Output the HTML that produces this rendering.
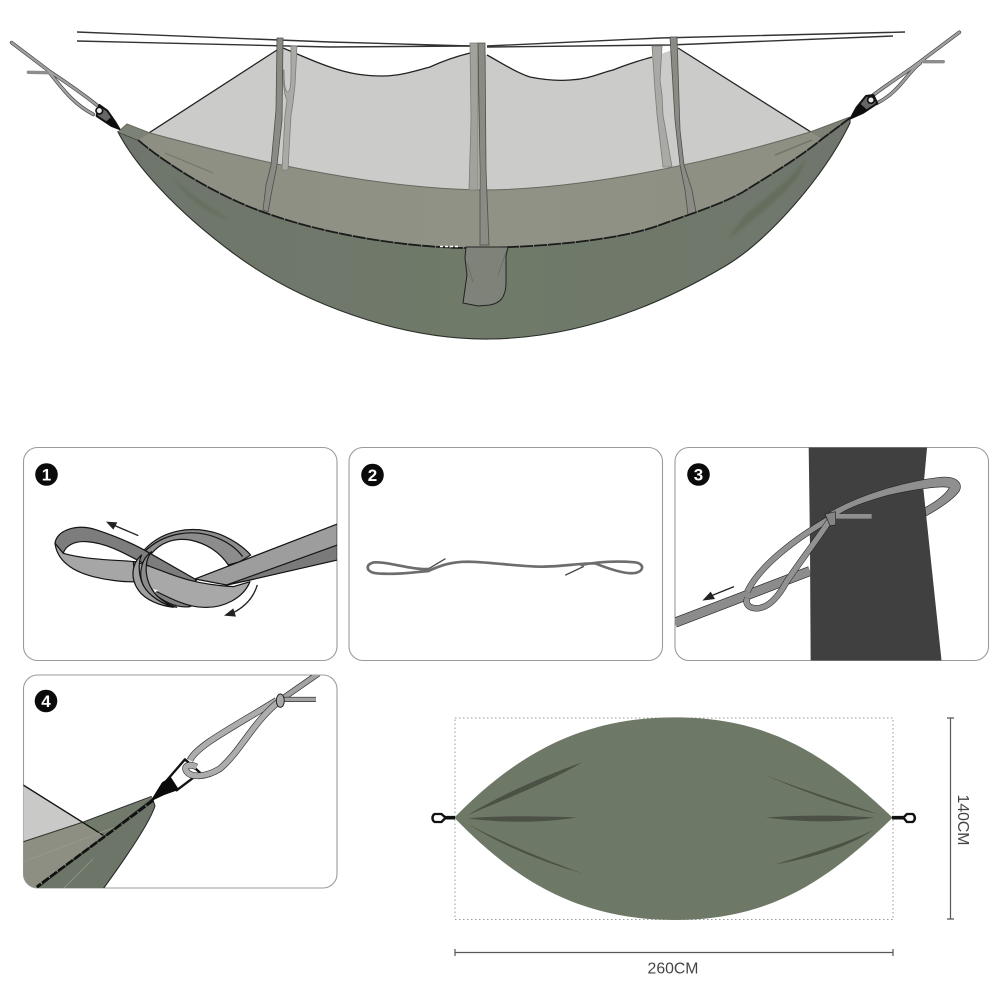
<!DOCTYPE html>
<html><head><meta charset="utf-8"><style>
html,body{margin:0;padding:0;background:#fff;width:1000px;height:1000px;overflow:hidden}
svg{display:block}
text{font-family:"Liberation Sans",sans-serif}
</style></head><body>
<svg width="1000" height="1000" viewBox="0 0 1000 1000" xmlns="http://www.w3.org/2000/svg">
<defs>
<linearGradient id="b" x1="0" y1="0" x2="1" y2="0"><stop offset="0" stop-color="#6f756c"/><stop offset=".5" stop-color="#6f7a68"/><stop offset="1" stop-color="#70766d"/></linearGradient>
<linearGradient id="u" x1="0" y1="0" x2="1" y2="0"><stop offset="0" stop-color="#8d8f82"/><stop offset=".5" stop-color="#8f9285"/><stop offset="1" stop-color="#8d8f82"/></linearGradient>
<filter id="s" x="-20%" y="-20%" width="140%" height="140%"><feGaussianBlur stdDeviation="1.2"/></filter>
<clipPath id="c1"><rect x="23.5" y="447.5" width="313.5" height="213" rx="14"/></clipPath>
<clipPath id="c3"><rect x="675" y="447.5" width="313.5" height="213" rx="14"/></clipPath>
<clipPath id="c4"><rect x="23.5" y="675" width="313.5" height="213" rx="14"/></clipPath>
</defs>

<!-- ridge lines -->
<g fill="none" stroke="#333" stroke-width="1.4">
<path d="M77,32 L330,42 L470,46"/><path d="M77,41 L330,47 L470,46"/>
<path d="M487,46 L660,38 L905,32"/><path d="M487,47 L670,45 L893,36"/>
</g>
<!-- mesh -->
<path d="M138,140 L277,50 L283,48 C300,55 315,62 330,67 C350,74 365,76 383,76 C400,76 415,71 430,67 C445,60 458,56 470,53 L487,55 C500,62 515,72 530,77 C545,80 558,81 570,80 C590,79 600,73 613,70 C630,63 642,60 652,57 L678,48 L822,139 L700,200 L300,200 Z" fill="#cbcccA"/>
<path d="M138,140 L277,50 M283,48 C300,55 315,62 330,67 C350,74 365,76 383,76 C400,76 415,71 430,67 C445,60 458,56 470,53 M487,55 C500,62 515,72 530,77 C545,80 558,81 570,80 C590,79 600,73 613,70 C630,63 642,60 652,57 M678,48 L822,139" fill="none" stroke="#222" stroke-width="1.3"/>
<!-- body -->
<path d="M118,132 C135,165 175,210 233,253 C300,303 400,340 490,339 C580,338 660,305 727,265 C770,239 825,175 850,123 L850,118 L822,139 L500,245 L138,140 Z" fill="url(#b)" stroke="#2a2e28" stroke-width="1.1"/>
<!-- upper fabric -->
<path d="M127,124 L150,133 C250,160 370,188 480,190 C560,190 680,172 810,132 L850,117 L822,139 C800,157 775,172 743,192 C720,205 690,214 660,225 C620,240 540,248 465,248 C400,247 320,233 263,212 C215,195 165,163 138,140 Z" fill="url(#u)"/>
<path d="M118,132 L127,124 L150,133 L138,140 Z" fill="#7d8277"/>
<path d="M810,132 L850,117 L822,139 Z" fill="#7d8277"/>
<path d="M118,132 L127,124 L150,133 M150,133 C250,160 370,188 480,190 C560,190 680,172 810,132 L850,117" fill="none" stroke="#66685f" stroke-width="1"/>
<!-- back straps -->
<g stroke="#7c7d76" stroke-width=".8">
<path d="M291,46 L297,46 L295,85 C294,95 293,105 291,115 L288,170 L282,170 L285,115 L287,100 C285,97 284,90 283,80 L283,70 L284,70 C284,85 285,92 288,92 C291,90 291,80 291,70 Z" fill="#a9aaa5"/>
<path d="M652,46 L662,46 L660,80 L662,95 L663,115 L672,167 L663,167 L657,115 L655,90 Z" fill="#a9aaa5"/>
<path d="M470,43 L478,43 L478,190 L469,190 L471,120 Z" fill="#a1a29c"/>
</g>
<!-- front straps -->
<g stroke="#4e4f49" stroke-width=".8" fill="#8a8b85">
<path d="M277,38 L283,38 L282,120 L277,165 L272,190 L268,212 L263,210 L266,185 L271,165 L276,110 Z"/>
<path d="M478,43 L485,43 L486,170 L489,245 L480,245 L480,170 Z"/>
<path d="M670,37 L677,37 L680,130 L684,165 L692,190 L696,212 L688,215 L685,190 L680,165 L675,120 Z"/>
</g>
<!-- seam -->
<path d="M138,140 C165,163 215,195 263,212 C320,233 400,247 465,248 C540,248 620,240 660,225 C690,214 720,205 743,192 C775,172 800,157 822,139 L850,118" fill="none" stroke="#1a1a1a" stroke-width="1.8" stroke-dasharray="13 1"/>
<path d="M440,246.5 L459,246.5" stroke="#fff" stroke-width="1.5" stroke-dasharray="3 2"/>
<!-- pocket -->
<path d="M466,247 L508,247 L506,256 L506,285 C505,298 500,303 490,305 L478,306 L463,303 L467,275 L465,258 Z" fill="#7e8279" stroke="#222" stroke-width="1"/>
<path d="M467,263 L473,282 M506,252 L498,275" stroke="#666a60" stroke-width=".8" fill="none"/>
<!-- body folds -->
<path d="M170,175 C190,195 205,205 230,220 C205,212 185,195 170,175" fill="#5f6a54" opacity=".7" filter="url(#s)"/>
<path d="M165,153 L213,173" stroke="#74766b" stroke-width="1"/>
<path d="M745,215 C770,195 795,175 806,158 C800,185 770,205 728,240 C735,228 740,222 745,215 Z" fill="#5f6a54" opacity=".65" filter="url(#s)"/>
<path d="M775,155 L812,140" stroke="#74766b" stroke-width="1.5"/>

<!-- left rope/carabiner -->
<g transform="translate(0,20) scale(.3333)" fill="none" stroke-linecap="round" stroke-linejoin="round">
<path d="M35,68 L150,155 C180,175 240,215 290,255" stroke="#444" stroke-width="11"/>
<path d="M150,160 C180,195 215,250 280,283" stroke="#444" stroke-width="11"/>
<path d="M85,157 L145,158" stroke="#8d8d8d" stroke-width="10"/>
<path d="M35,68 L150,155 C180,175 240,215 290,255" stroke="#a0a0a0" stroke-width="7"/>
<path d="M150,160 C180,195 215,250 280,283" stroke="#a0a0a0" stroke-width="7"/>
<path d="M298,255 L322,272 L345,305 L358,327 L335,318 L290,288 Z" fill="#666" stroke="#111" stroke-width="6"/>
<path d="M332,292 L362,330 L344,322 L318,305 Z" fill="#0d0d0d"/>
<circle cx="298" cy="272" r="10" fill="#e8e8e8" stroke="#111" stroke-width="5"/>
</g>
<!-- right rope/carabiner -->
<g transform="translate(660,20) scale(.3333)" fill="none" stroke-linecap="round" stroke-linejoin="round">
<path d="M898,37 L790,118 C750,150 700,180 640,225" stroke="#444" stroke-width="11"/>
<path d="M780,130 C740,160 720,215 650,250" stroke="#444" stroke-width="11"/>
<path d="M790,125 L850,125" stroke="#8d8d8d" stroke-width="10"/>
<path d="M898,37 L790,118 C750,150 700,180 640,225" stroke="#a0a0a0" stroke-width="7"/>
<path d="M780,130 C740,160 720,215 650,250" stroke="#a0a0a0" stroke-width="7"/>
<path d="M618,228 L640,225 L652,250 L610,278 L572,295 L590,262 Z" fill="#666" stroke="#111" stroke-width="6"/>
<path d="M600,250 L622,270 L570,298 Z" fill="#0d0d0d"/>
<circle cx="633" cy="240" r="10" fill="#e8e8e8" stroke="#111" stroke-width="5"/>
</g>

<!-- panels -->
<g fill="#fff" stroke="#9b9b9b" stroke-width="1.1">
<rect x="23.5" y="447.5" width="313.5" height="213" rx="14"/>
<rect x="349" y="447.5" width="313.5" height="213" rx="14"/>
<rect x="675" y="447.5" width="313.5" height="213" rx="14"/>
<rect x="23.5" y="675" width="313.5" height="213" rx="14"/>
</g>

<!-- panel 1 -->
<g clip-path="url(#c1)"><g transform="translate(20,445) scale(.3333)" stroke="#141414" stroke-width="3.6" stroke-linejoin="round">
<path d="M360,330 C420,250 520,240 600,268 C640,285 670,305 692,330 L660,350 L625,360 C600,322 560,295 510,285 C460,277 420,295 395,325 Z" fill="#8c8c8c"/>
<path d="M372,322 C430,262 520,250 590,278 C625,292 650,310 668,335" fill="none"/>
<path d="M105,295 C110,255 170,235 230,255 C290,275 340,295 390,325 L530,405 L500,425 L390,365 C330,335 270,295 200,290 C160,287 135,305 130,325 Z" fill="#7d7d7d"/>
<path d="M525,402 L952,237 L952,345 L690,405 L620,420 Z" fill="#9d9d9d"/>
<path d="M620,420 L952,300 L952,345 L690,405 Z" fill="#7a7a7a"/>
<path d="M105,295 C110,335 140,375 220,395 C260,405 310,412 345,410 L345,350 C290,345 200,345 130,325 Z" fill="#a6a6a6"/>
<path d="M395,440 C430,470 470,490 510,485 L540,470 L430,430 Z" fill="#828282"/>
<path d="M340,350 C420,365 470,415 640,425 L690,410 C670,460 610,490 550,487 C480,485 420,440 345,410 Z" fill="#a8a8a8"/>
<path d="M395,320 C365,340 350,390 375,430 C390,455 430,480 470,487 C420,470 395,440 385,410 C375,380 375,345 395,320 Z" fill="#8c8c8c"/>
<path d="M365,330 C335,355 330,400 355,435 C375,465 420,482 460,487 C410,470 375,440 365,410 C355,380 355,350 365,330 Z" fill="#a0a0a0"/>
<path d="M398,432 L415,436 L405,442 Z" fill="#fff" stroke="none"/>
</g>
<g transform="translate(20,445) scale(.3333)" fill="none" stroke="#222" stroke-width="4">
<path d="M355,272 L280,240"/><path d="M712,420 C700,460 670,490 630,508"/>
<path d="M258,230 L292,232 L280,254 Z" fill="#222" stroke="none"/>
<path d="M612,512 L640,490 L648,515 Z" fill="#222" stroke="none"/>
</g></g>

<!-- panel 2 -->
<g transform="translate(345,445) scale(.3333)" fill="none" stroke-linejoin="round" stroke-linecap="round">
<path d="M250,372 L300,342 M715,365 L662,390" stroke="#4a4a4a" stroke-width="4"/>
<path d="M250,372 C200,375 130,350 90,352 C60,355 60,382 95,385 C150,390 210,382 250,378 C290,360 320,350 370,350 C450,352 520,365 590,365 C650,365 700,355 750,355 C800,375 850,390 875,383 C900,375 895,355 870,352 C820,348 760,350 710,360" stroke="#6e6c6c" stroke-width="8"/>
</g>

<!-- panel 3 -->
<g clip-path="url(#c3)"><g transform="translate(670,445) scale(.3333)" stroke-linejoin="round">
<path d="M15,533 L420,378" stroke="#2a2a2a" stroke-width="30" fill="none"/>
<path d="M15,533 L420,378" stroke="#8c8c8c" stroke-width="26" fill="none"/>
<path d="M416,0 L772,0 L760,130 L815,650 L422,650 L420,300 Z" fill="#404040"/>
<path d="M465,210 C560,150 700,110 810,97 C860,92 880,115 868,138 C850,165 800,195 768,213 L765,188 C800,170 830,145 838,128 C820,120 720,135 650,152 C580,172 530,190 497,215 Z" fill="#8f8f8f" stroke="#2a2a2a" stroke-width="2"/>
<path d="M497,214 L605,214" stroke="#8f8f8f" stroke-width="14" fill="none"/>
<path d="M472,225 C380,280 270,360 232,440" stroke="#222" stroke-width="19" fill="none"/>
<path d="M472,225 C380,280 270,360 232,440" stroke="#929292" stroke-width="16" fill="none"/>
<path d="M478,228 C430,300 390,350 350,410 C320,465 290,490 260,490 C235,490 225,475 232,460" stroke="#222" stroke-width="19" fill="none"/>
<path d="M478,228 C430,300 390,350 350,410 C320,465 290,490 260,490 C235,490 225,475 232,460" stroke="#929292" stroke-width="16" fill="none"/>
<path d="M465,207 L497,200 L497,240 L480,242 Z" fill="#858585" stroke="#222" stroke-width="2"/>
<path d="M192,425 L125,452" stroke="#222" stroke-width="4" fill="none"/>
<path d="M97,467 L122,440 L135,462 Z" fill="#222"/>
</g></g>

<!-- panel 4 -->
<g clip-path="url(#c4)"><g transform="translate(20,672) scale(.3333)" stroke-linejoin="round">
<path d="M8,338 L190,450 L8,510 Z" fill="#c9cac8"/>
<path d="M8,510 L190,450 L395,373 L400,385 L50,650 L8,650 Z" fill="#8d8f82"/>
<path d="M190,450 L395,373 L400,385 L250,490 Z" fill="#727a6b"/>
<path d="M398,380 L405,402 C390,450 330,540 250,650 L50,650 Z" fill="#6d7568" stroke="#222" stroke-width="3"/>
<path d="M8,510 L190,450 L395,373" fill="none" stroke="#333" stroke-width="3"/>
<path d="M8,338 L250,490" stroke="#111" stroke-width="4" fill="none"/>
<path d="M8,570 L300,460 M130,650 L220,560" stroke="#9a9c90" stroke-width="2" fill="none"/>
<path d="M400,385 L50,645" stroke="#111" stroke-width="8" stroke-dasharray="26 4" fill="none"/>
<path d="M432,335 L495,262 L540,302 L470,355 Z" fill="#fff" stroke="#111" stroke-width="7"/>
<path d="M770,85 C650,160 530,220 510,265" stroke="#333" stroke-width="20" fill="none"/>
<path d="M770,85 C650,160 530,220 510,265" stroke="#adadad" stroke-width="16" fill="none"/>
<path d="M775,90 C700,150 660,240 600,290 C560,315 510,320 498,295 C492,280 510,275 530,285" stroke="#333" stroke-width="20" fill="none"/>
<path d="M775,90 C700,150 660,240 600,290 C560,315 510,320 498,295 C492,280 510,275 530,285" stroke="#adadad" stroke-width="16" fill="none"/>
<path d="M780,85 L895,5" stroke="#222" stroke-width="18" fill="none"/>
<path d="M780,85 L895,5" stroke="#a3a3a3" stroke-width="14" fill="none"/>
<path d="M790,82 L888,82" stroke="#222" stroke-width="15" fill="none"/>
<path d="M790,82 L888,82" stroke="#a3a3a3" stroke-width="11" fill="none"/>
<ellipse cx="781" cy="86" rx="12" ry="20" fill="#aaa" stroke="#222" stroke-width="3"/>
<path d="M395,385 L428,332 L452,318 L474,352 L430,368 Z" fill="#0a0a0a" stroke="#0a0a0a" stroke-width="4"/>
</g></g>

<!-- badges -->
<circle cx="46.5" cy="474.5" r="11.3" fill="#0b0b0b"/><text x="46.5" y="480.5" font-size="17" font-weight="bold" fill="#fff" text-anchor="middle">1</text>
<circle cx="372.5" cy="475" r="11.3" fill="#0b0b0b"/><text x="372.5" y="481" font-size="17" font-weight="bold" fill="#fff" text-anchor="middle">2</text>
<circle cx="698.5" cy="474.5" r="11.3" fill="#0b0b0b"/><text x="698.5" y="480.5" font-size="17" font-weight="bold" fill="#fff" text-anchor="middle">3</text>
<circle cx="46" cy="701" r="11.3" fill="#0b0b0b"/><text x="46" y="707" font-size="17" font-weight="bold" fill="#fff" text-anchor="middle">4</text>

<!-- flat hammock -->
<rect x="455" y="718" width="438" height="201.5" fill="none" stroke="#9a9a9a" stroke-width="1" stroke-dasharray="1.5 2.5"/>
<g transform="translate(425,700) scale(.357,.3333)">
<path d="M82,353 C250,170 430,52 700,52 C970,52 1130,170 1310,353 C1130,540 970,660 700,660 C430,660 250,540 82,353 Z" fill="#6e7867"/>
<g fill="#4b5245">
<path d="M120,345 C220,280 340,225 440,187 C350,245 220,300 120,345Z"/>
<path d="M120,355 C220,345 340,350 425,352 C340,368 220,370 120,355Z"/>
<path d="M120,372 C220,430 340,480 440,520 C340,490 220,440 120,372Z"/>
<path d="M945,222 C1060,270 1180,310 1270,342 C1170,320 1050,270 945,222Z"/>
<path d="M955,352 C1060,345 1170,345 1260,353 C1170,368 1060,368 955,352Z"/>
<path d="M982,493 C1080,460 1180,430 1255,390 C1190,440 1080,475 982,493Z"/>
</g>
<path d="M52,353 L84,353 M1308,353 L1342,353" stroke="#111" stroke-width="11" fill="none"/>
<path d="M27,342 L46,342 L58,353 L46,366 L27,366 C19,360 19,348 27,342Z" fill="#fff" stroke="#111" stroke-width="7"/>
<path d="M1340,353 L1350,342 L1366,342 C1374,348 1374,360 1366,366 L1350,366 Z" fill="#fff" stroke="#111" stroke-width="7"/>
</g>

<!-- dimensions -->
<g stroke="#5a5556" stroke-width="1.2" fill="none">
<path d="M455,952.5 L893,952.5 M455,949 L455,956 M893,949 L893,956"/>
<path d="M950.5,718 L950.5,919 M947,718 L954,718 M947,919 L954,919"/>
</g>
<text x="673" y="973.5" font-size="15.8" fill="#444" text-anchor="middle">260CM</text>
<text transform="translate(958,820) rotate(90)" font-size="15.8" fill="#444" text-anchor="middle">140CM</text>
</svg>
</body></html>
